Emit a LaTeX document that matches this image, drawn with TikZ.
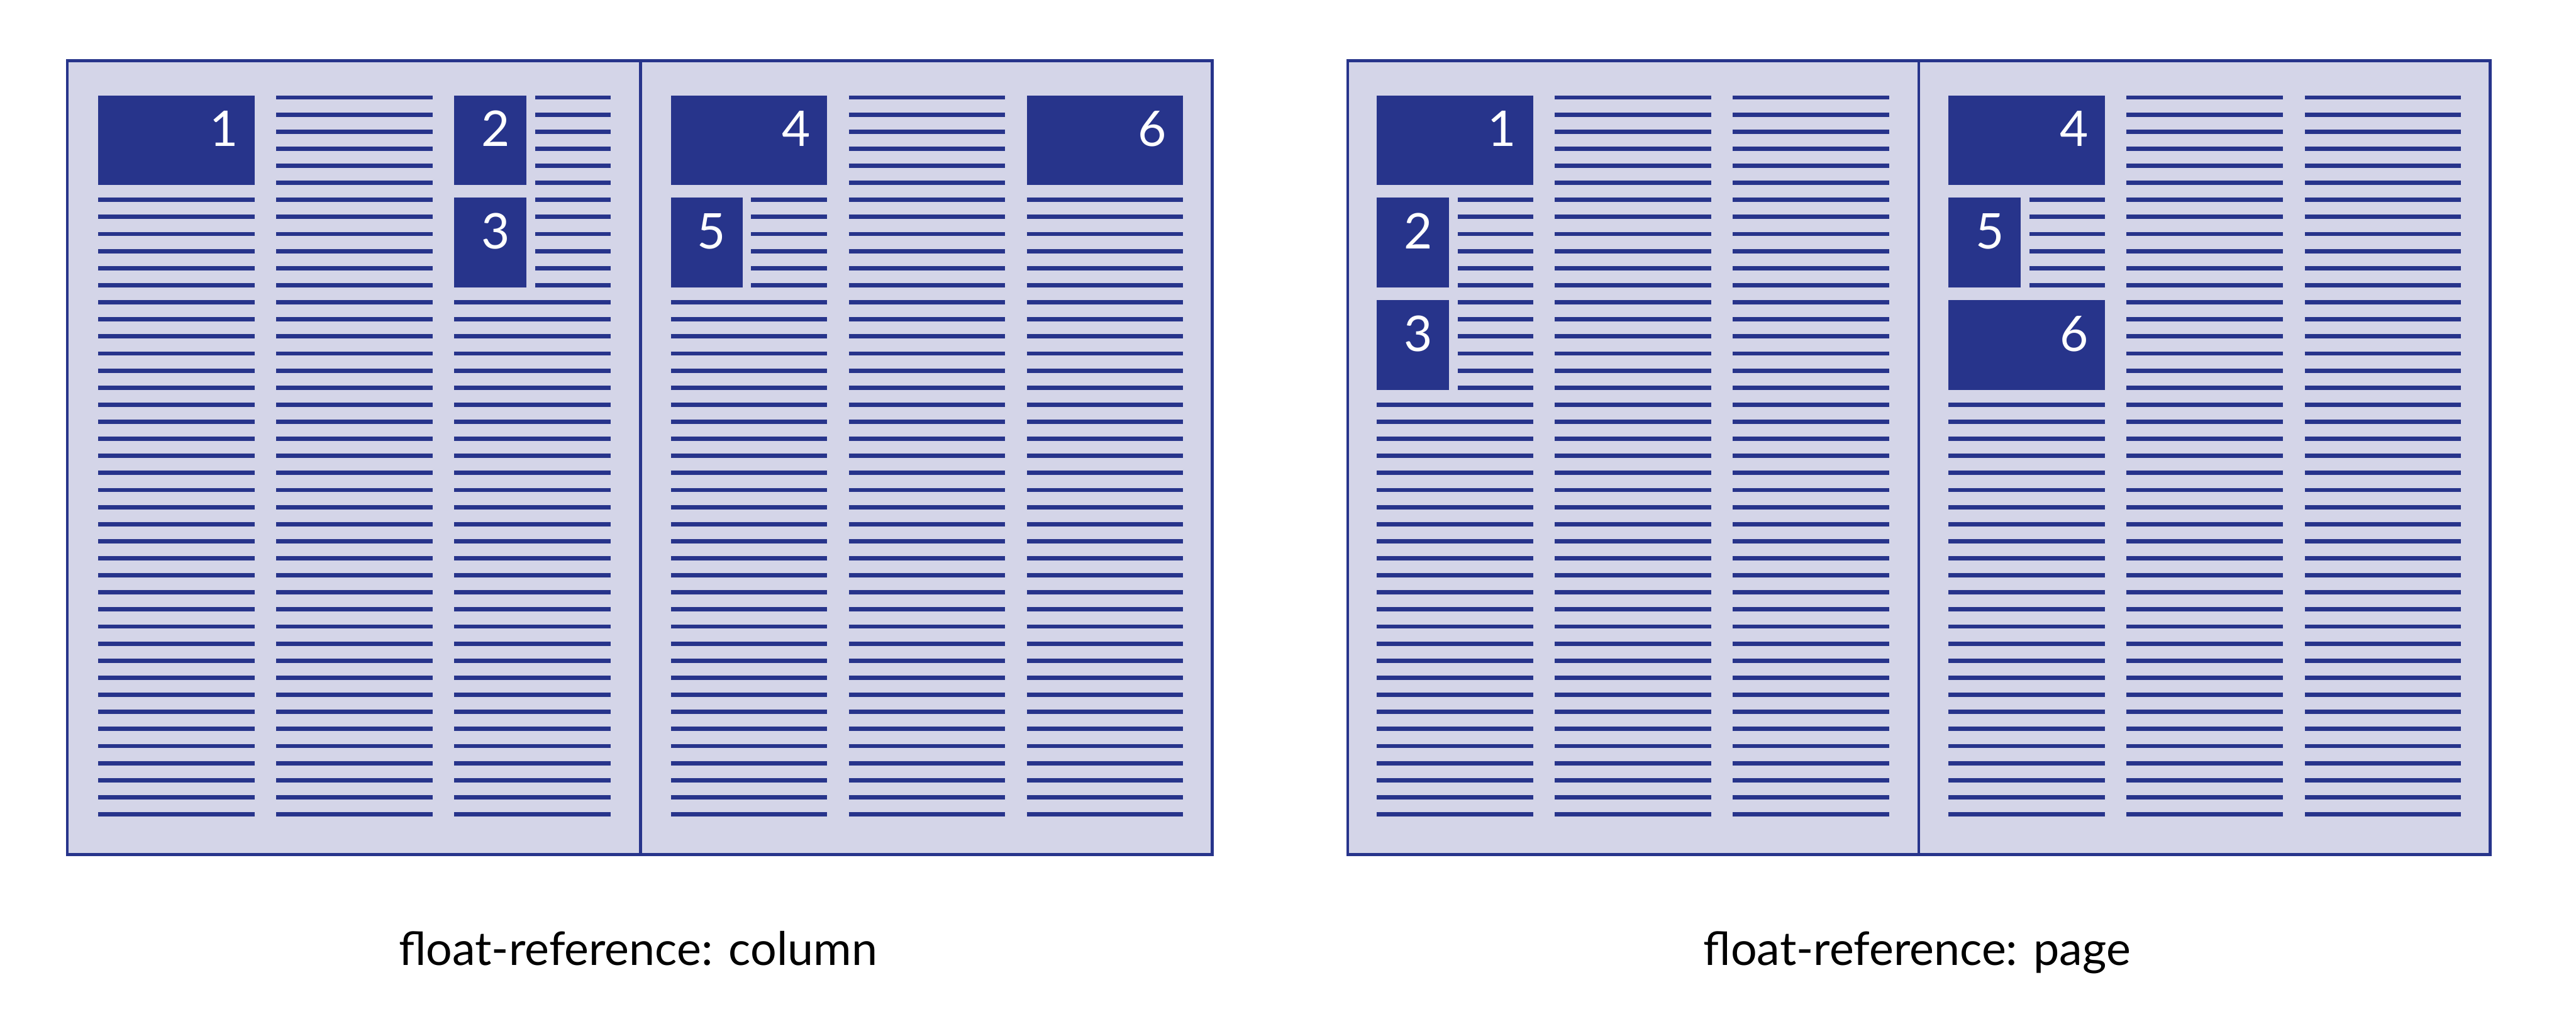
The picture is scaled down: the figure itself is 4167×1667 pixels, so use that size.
\documentclass[tikz,border=0pt]{standalone}
\usepackage{fontspec}
\setmainfont{Lato}
\definecolor{fdark}{HTML}{27348B}
\definecolor{flight}{HTML}{D4D5E8}
\tikzset{
  txtline/.style={draw=fdark, line width=1.99pt},
  pageframe/.style={draw=fdark, line width=1.3pt},
  numlabel/.style={text=white, font=\fontsize{22.6}{24}\selectfont, anchor=base, inner sep=0pt},
  caption/.style={font=\fontsize{21.3}{24}\selectfont, anchor=base, inner sep=0pt},
}
\newcommand\txlines[4]{\foreach \i in {#3,...,#4}{\draw[txtline] (#1,{157.7+27.6*\i}) -- (#2,{157.7+27.6*\i});}}
\newcommand\flbox[5]{\fill[fdark] (#1,{154.2+27.6*#3}) rectangle (#2,{161.2+27.6*(#3+5)});
  \node[numlabel] (#5) at ({#2-50},{154.2+27.6*#3+82.5}) {#4};}
\begin{document}
\begin{tikzpicture}[x=0.01cm,y=-0.01cm]
\useasboundingbox (0,0) rectangle (4167,1667);
% ---------- left diagram: float-reference: column
\fill[flight] (109,98) rectangle (1961,1382);
\flbox{159}{412}{0}{1}{n1a}
\txlines{159}{412}{6}{42}
\txlines{447}{700}{0}{42}
\flbox{735}{852}{0}{2}{n2a}
\flbox{735}{852}{6}{3}{n3a}
\txlines{866}{988}{0}{11}
\txlines{735}{988}{12}{42}
\flbox{1085}{1338}{0}{4}{n4a}
\flbox{1085}{1201}{6}{5}{n5a}
\txlines{1215}{1338}{6}{11}
\txlines{1085}{1338}{12}{42}
\txlines{1373}{1626}{0}{42}
\flbox{1661}{1914}{0}{6}{n6a}
\txlines{1661}{1914}{6}{42}
\draw[pageframe] (109,98) rectangle (1961,1382);
\draw[pageframe] (1036,98) -- (1036,1382);
\node[caption] (capA) at (1032,1561) {float-reference: column};
% ---------- right diagram: float-reference: page
\fill[flight] (2180,98) rectangle (4028,1382);
\flbox{2227}{2480}{0}{1}{n1b}
\flbox{2227}{2344}{6}{2}{n2b}
\flbox{2227}{2344}{12}{3}{n3b}
\txlines{2358}{2480}{6}{17}
\txlines{2227}{2480}{18}{42}
\txlines{2515}{2768}{0}{42}
\txlines{2803}{3056}{0}{42}
\flbox{3152}{3405}{0}{4}{n4b}
\flbox{3152}{3269}{6}{5}{n5b}
\flbox{3152}{3405}{12}{6}{n6b}
\txlines{3283}{3405}{6}{11}
\txlines{3152}{3405}{18}{42}
\txlines{3440}{3693}{0}{42}
\txlines{3728}{3981}{0}{42}
\draw[pageframe] (2180,98) rectangle (4028,1382);
\draw[pageframe] (3104,98) -- (3104,1382);
\node[caption] (capB) at (3101,1561) {float-reference: page};
\end{tikzpicture}
\end{document}
